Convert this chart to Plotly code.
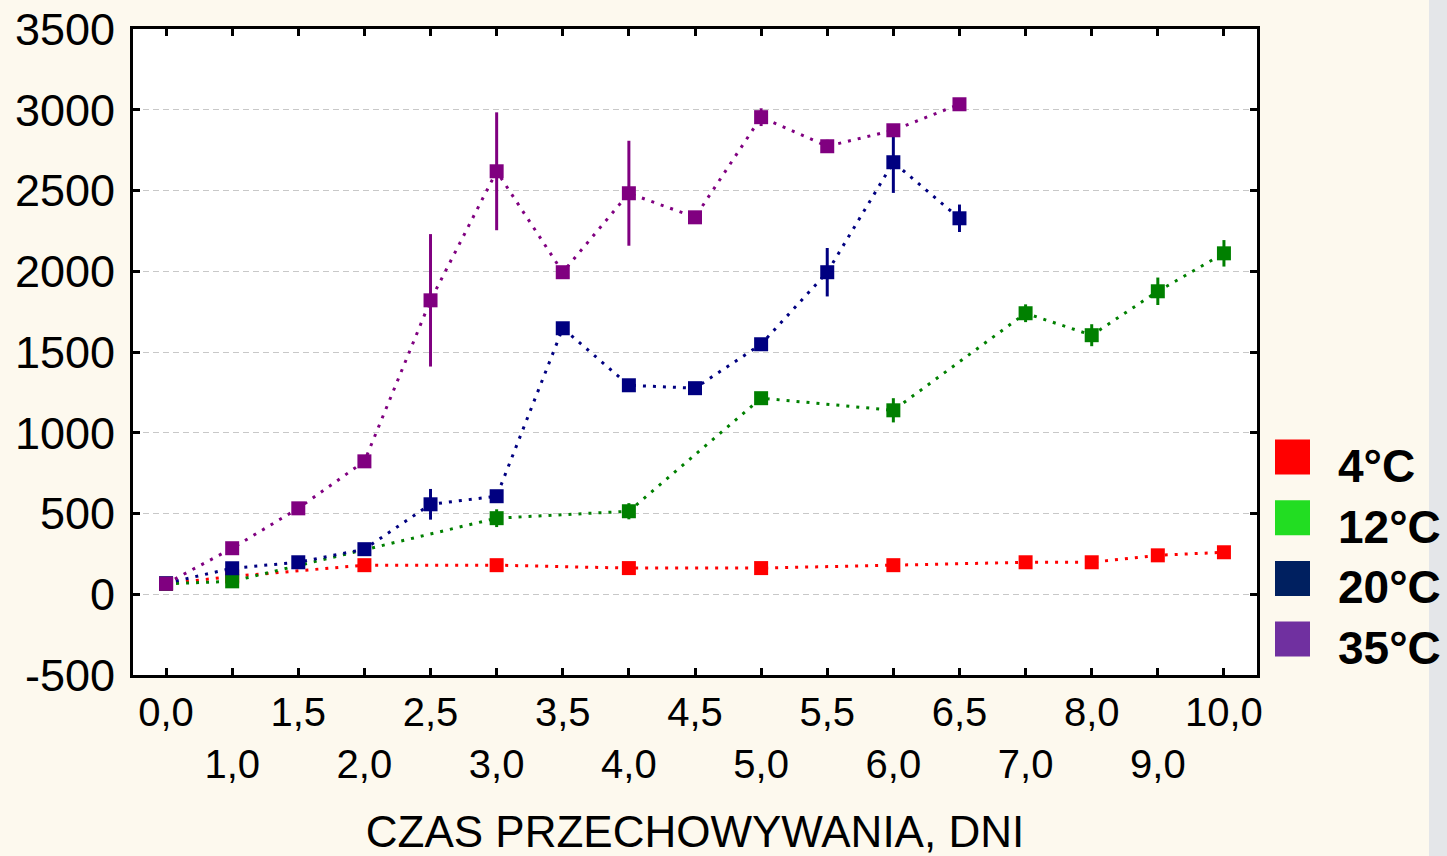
import plotly.graph_objects as go

# Categories (storage time, days) - categorical positions on x axis
categories = ["0,0", "1,0", "1,5", "2,0", "2,5", "3,0", "3,5", "4,0", "4,5",
              "5,0", "5,5", "6,0", "6,5", "7,0", "8,0", "9,0", "10,0"]

# Y tick labels
y_tickvals = [-500, 0, 500, 1000, 1500, 2000, 2500, 3000, 3500]
y_ticktext = ["-500", "0", "500", "1000", "1500", "2000", "2500", "3000", "3500"]

# 4°C
x_4 = ["0,0", "1,0", "2,0", "3,0", "4,0", "5,0", "6,0", "7,0", "8,0", "9,0", "10,0"]
y_4 = [65, 110, 180, 180, 162, 162, 180, 198, 198, 241, 260]
e_4 = [0, 0, 0, 0, 0, 0, 0, 0, 0, 0, 0]

# 12°C
x_12 = ["0,0", "1,0", "3,0", "4,0", "5,0", "6,0", "7,0", "8,0", "9,0", "10,0"]
y_12 = [65, 80, 471, 514, 1214, 1139, 1740, 1604, 1876, 2111]
e_12 = [0, 0, 55, 50, 25, 75, 55, 68, 85, 82]

# 20°C
x_20 = ["0,0", "1,0", "1,5", "2,0", "2,5", "3,0", "3,5", "4,0", "4,5", "5,0", "5,5", "6,0", "6,5"]
y_20 = [68, 161, 198, 279, 557, 607, 1647, 1294, 1276, 1548, 1994, 2675, 2328]
e_20 = [0, 0, 0, 0, 95, 0, 0, 0, 0, 0, 150, 190, 85]

# 35°C
x_35 = ["0,0", "1,0", "1,5", "2,0", "2,5", "3,0", "3,5", "4,0", "4,5", "5,0", "5,5", "6,0", "6,5"]
y_35 = [65, 285, 532, 823, 1820, 2619, 1994, 2483, 2334, 2954, 2774, 2873, 3034]
e_35 = [0, 0, 0, 0, 410, 365, 0, 325, 0, 55, 40, 0, 0]

series_names = ["4°C", "12°C", "20°C", "35°C"]
line_colors = ["#FF0000", "#008000", "#000080", "#800080"]
legend_colors = ["#FF0000", "#22DD22", "#002060", "#7030A0"]

idx = {c: i for i, c in enumerate(categories)}

fig = go.Figure()
for name, xs, ys, es, col in zip(series_names, [x_4, x_12, x_20, x_35], [y_4, y_12, y_20, y_35],
                                 [e_4, e_12, e_20, e_35], line_colors):
    fig.add_trace(go.Scatter(
        x=[idx[c] for c in xs], y=ys, name=name, mode="lines+markers",
        line=dict(color=col, width=3, dash="3px,7px"),
        marker=dict(symbol="square", size=14, color=col, line=dict(width=0)),
        error_y=dict(type="data", array=es, visible=True, thickness=3, width=0, color=col),
        showlegend=False,
    ))

# pixel -> paper helpers for layout decorations
L, R, T, B = 133, 1257, 29, 675
def pxx(x):
    return (x - L) / (R - L)
def pxy(y):
    return (B - y) / (B - T)

shapes = []
annotations = []
# right grey strip
shapes.append(dict(type="rect", xref="paper", yref="paper", x0=pxx(1429), x1=pxx(1460),
                   y0=pxy(870), y1=pxy(-10), fillcolor="#E4E6E9", line=dict(width=0), layer="below"))
# custom legend
for i, (name, col) in enumerate(zip(series_names, legend_colors)):
    cy = 457 + i * 60.7
    shapes.append(dict(type="rect", xref="paper", yref="paper", x0=pxx(1275), x1=pxx(1310),
                       y0=pxy(cy + 17.5), y1=pxy(cy - 17.5), fillcolor=col, line=dict(width=0)))
    annotations.append(dict(xref="paper", yref="paper", x=pxx(1336), y=pxy(cy + 9),
                            text="<b>%s</b>" % name, showarrow=False, xanchor="left", yanchor="middle",
                            font=dict(family="Liberation Sans, Arial", size=46, color="black")))

ticktext = [c if i % 2 == 0 else "<br>" + c for i, c in enumerate(categories)]

fig.update_layout(
    width=1447, height=856,
    margin=dict(l=L, r=1447 - R, t=T, b=856 - B),
    paper_bgcolor="#FDF9EE", plot_bgcolor="white",
    font=dict(family="Liberation Sans, Arial", color="black"),
    shapes=shapes, annotations=annotations,
    xaxis=dict(
        range=[-0.5, 16.5], tickmode="array", tickvals=list(range(len(categories))), ticktext=ticktext,
        tickangle=0, tickfont=dict(size=40), showgrid=False, zeroline=False,
        showline=True, linecolor="black", linewidth=3, mirror="ticks",
        ticks="inside", ticklen=7, tickwidth=2.5, tickcolor="black",
        title=dict(text="CZAS PRZECHOWYWANIA, DNI", font=dict(size=44), standoff=32),
        automargin=False,
    ),
    yaxis=dict(
        range=[-500, 3500], tickmode="array", tickvals=y_tickvals, ticktext=y_ticktext,
        tickfont=dict(size=45), showgrid=True, gridcolor="#C8C8C8", gridwidth=1, griddash="6px,4px",
        zeroline=False, showline=True, linecolor="black", linewidth=3, mirror="ticks",
        ticks="inside", ticklen=7, tickwidth=2.5, tickcolor="black", ticklabelstandoff=6,
        automargin=False,
    ),
)

fig.write_html("out.html", config={"displayModeBar": False},
               post_script="document.body.style.margin='0';document.body.style.overflow='hidden';")
